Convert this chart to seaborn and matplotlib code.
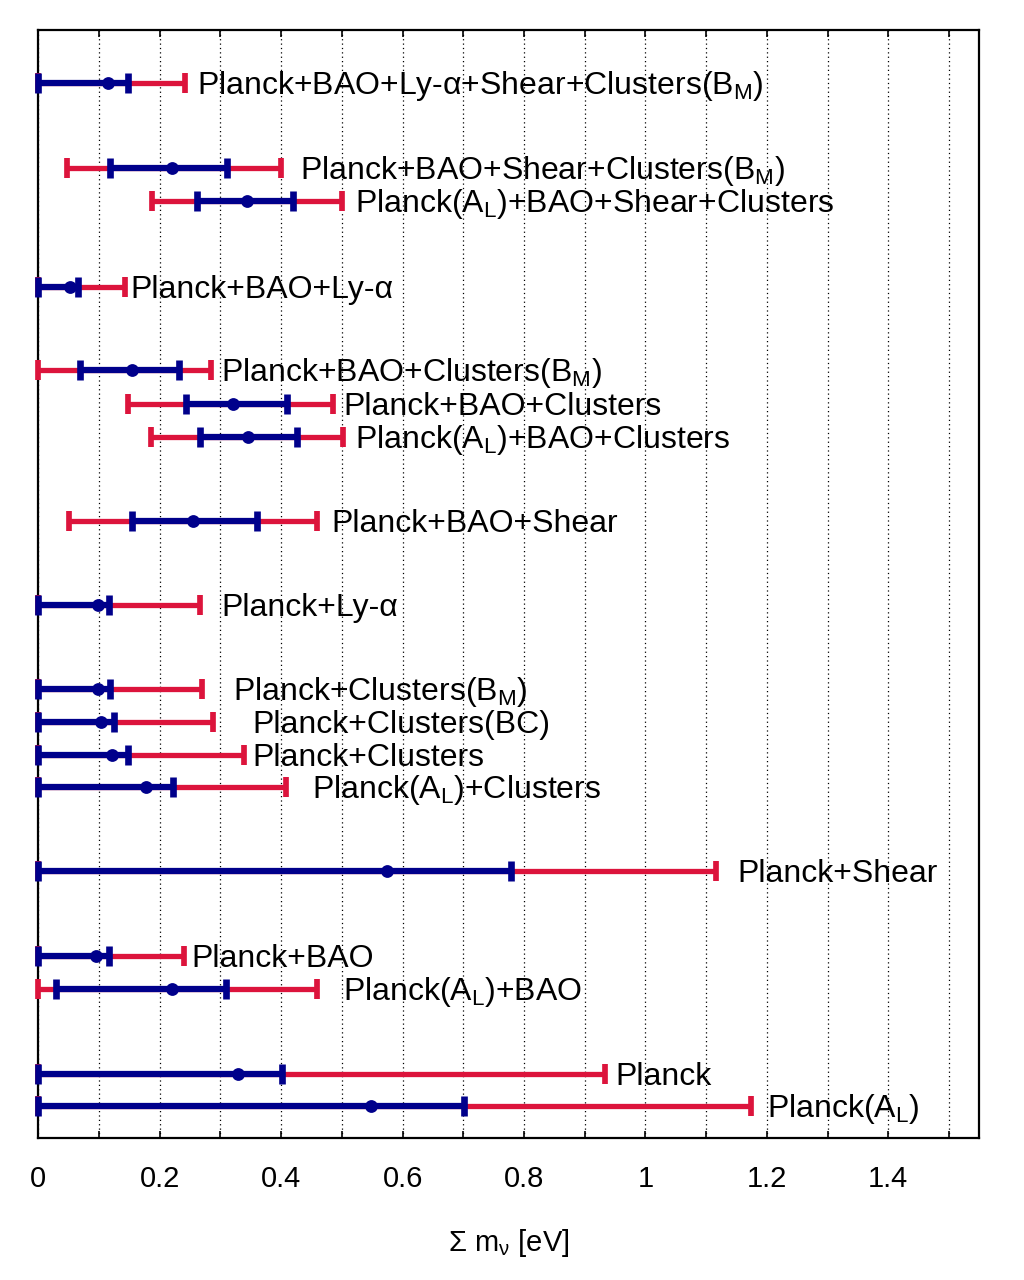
import numpy as np
import pandas as pd
import matplotlib
matplotlib.use("Agg")
import seaborn as sns
import matplotlib.pyplot as plt
from matplotlib.ticker import MultipleLocator

# datasets, top to bottom
labels = [
    r"Planck+BAO+Ly-α+Shear+Clusters(B$_\mathregular{M}$)",
    r"Planck+BAO+Shear+Clusters(B$_\mathregular{M}$)",
    r"Planck(A$_\mathregular{L}$)+BAO+Shear+Clusters",
    "Planck+BAO+Ly-α",
    r"Planck+BAO+Clusters(B$_\mathregular{M}$)",
    "Planck+BAO+Clusters",
    r"Planck(A$_\mathregular{L}$)+BAO+Clusters",
    "Planck+BAO+Shear",
    "Planck+Ly-α",
    r"Planck+Clusters(B$_\mathregular{M}$)",
    "Planck+Clusters(BC)",
    "Planck+Clusters",
    r"Planck(A$_\mathregular{L}$)+Clusters",
    "Planck+Shear",
    "Planck+BAO",
    r"Planck(A$_\mathregular{L}$)+BAO",
    "Planck",
    r"Planck(A$_\mathregular{L}$)",
]
row_y = [32.15, 29.56, 28.56, 25.94, 23.41, 22.37, 21.36, 18.8, 16.24,
         13.68, 12.67, 11.67, 10.69, 8.13, 5.54, 4.53, 1.94, 0.97]

# sum of neutrino masses [eV]: 95% and 68% limits, best fit
lo95 = [0.0, 0.047, 0.188, 0.0, 0.0, 0.148, 0.185, 0.051, 0.0,
        0.0, 0.0, 0.0, 0.0, 0.0, 0.0, 0.0, 0.0, 0.0]
lo68 = [0.0, 0.118, 0.262, 0.0, 0.069, 0.244, 0.266, 0.154, 0.0,
        0.0, 0.0, 0.0, 0.0, 0.0, 0.0, 0.029, 0.0, 0.0]
best = [0.115, 0.220, 0.344, 0.053, 0.154, 0.320, 0.346, 0.255, 0.098,
        0.098, 0.103, 0.122, 0.177, 0.575, 0.0945, 0.221, 0.329, 0.548]
hi68 = [0.147, 0.310, 0.420, 0.066, 0.232, 0.410, 0.426, 0.361, 0.116,
        0.118, 0.124, 0.147, 0.222, 0.779, 0.116, 0.309, 0.402, 0.701]
hi95 = [0.242, 0.399, 0.501, 0.142, 0.284, 0.486, 0.502, 0.459, 0.266,
        0.270, 0.287, 0.338, 0.408, 1.116, 0.240, 0.459, 0.934, 1.174]
label_x = [0.262, 0.431, 0.521, 0.151, 0.301, 0.502, 0.521, 0.482, 0.301,
           0.321, 0.352, 0.352, 0.451, 1.151, 0.252, 0.502, 0.951, 1.200]

df = pd.DataFrame({"label": labels, "y": row_y, "lo95": lo95, "lo68": lo68,
                   "best": best, "hi68": hi68, "hi95": hi95, "lx": label_x})

RED = "#dc143c"
BLUE = "#00008b"

sns.set_theme(style="ticks")
plt.rcParams['font.family'] = ['Liberation Sans', 'DejaVu Sans']
plt.rcParams['mathtext.fontset'] = 'custom'
plt.rcParams['mathtext.rm'] = 'Liberation Sans'
plt.rcParams['mathtext.it'] = 'Liberation Sans:italic'
plt.rcParams['mathtext.bf'] = 'Liberation Sans:bold'
plt.rcParams['text.color'] = 'black'
plt.rcParams['xtick.color'] = 'black'
plt.rcParams['axes.labelcolor'] = 'black'

fig = plt.figure(figsize=(10.24, 12.8), dpi=100)
ax = fig.add_axes([0.0374, 0.1112, 0.919, 0.8654])


def draw_bar(lo, hi, color, lw):
    mid = (df[lo] + df[hi]) / 2
    half = (df[hi] - df[lo]) / 2
    cont = ax.errorbar(mid, df["y"], xerr=half, fmt="none", ecolor=color,
                       elinewidth=lw, capsize=7.2, capthick=lw + 0.3, zorder=3)
    for child in cont.get_children():
        child.set_clip_on(False)


# 95% first, then 68% on top
draw_bar("lo95", "hi95", RED, 3.8)
draw_bar("lo68", "hi68", BLUE, 4.5)
sns.scatterplot(data=df, x="best", y="y", color=BLUE, s=85, edgecolor=BLUE,
                linewidth=0, zorder=4, ax=ax, legend=False)

for _, r in df.iterrows():
    ax.annotate(r["label"], (r["lx"], r["y"]), xytext=(0, -8),
                textcoords="offset points", ha="left", va="baseline",
                fontsize=23, color="black")

ax.set_xlim(0, 1.55)
ax.set_ylim(0, 33.77)
ax.xaxis.set_major_locator(MultipleLocator(0.2))
ax.xaxis.set_minor_locator(MultipleLocator(0.1))
ax.set_xticks(ax.get_xticks())
ax.set_xticklabels([f"{v:g}" for v in ax.get_xticks()], fontsize=21)
ax.set_xlim(0, 1.55)
ax.tick_params(axis="x", which="both", direction="in", top=True, length=5,
               width=1.2, color="black", labelsize=21, pad=20)
ax.tick_params(axis="y", left=False, labelleft=False)
ax.grid(axis="x", which="both", linestyle=(0, (1, 2.5)), color="black",
        linewidth=0.9)
ax.set_axisbelow(True)
for s in ax.spines.values():
    s.set_linewidth(1.6)
    s.set_color("black")

ax.set_xlabel(r"Σ m$_\mathregular{ν}$ [eV]", fontsize=21, labelpad=24)
ax.set_ylabel("")

fig.savefig("out.png", dpi=100)
